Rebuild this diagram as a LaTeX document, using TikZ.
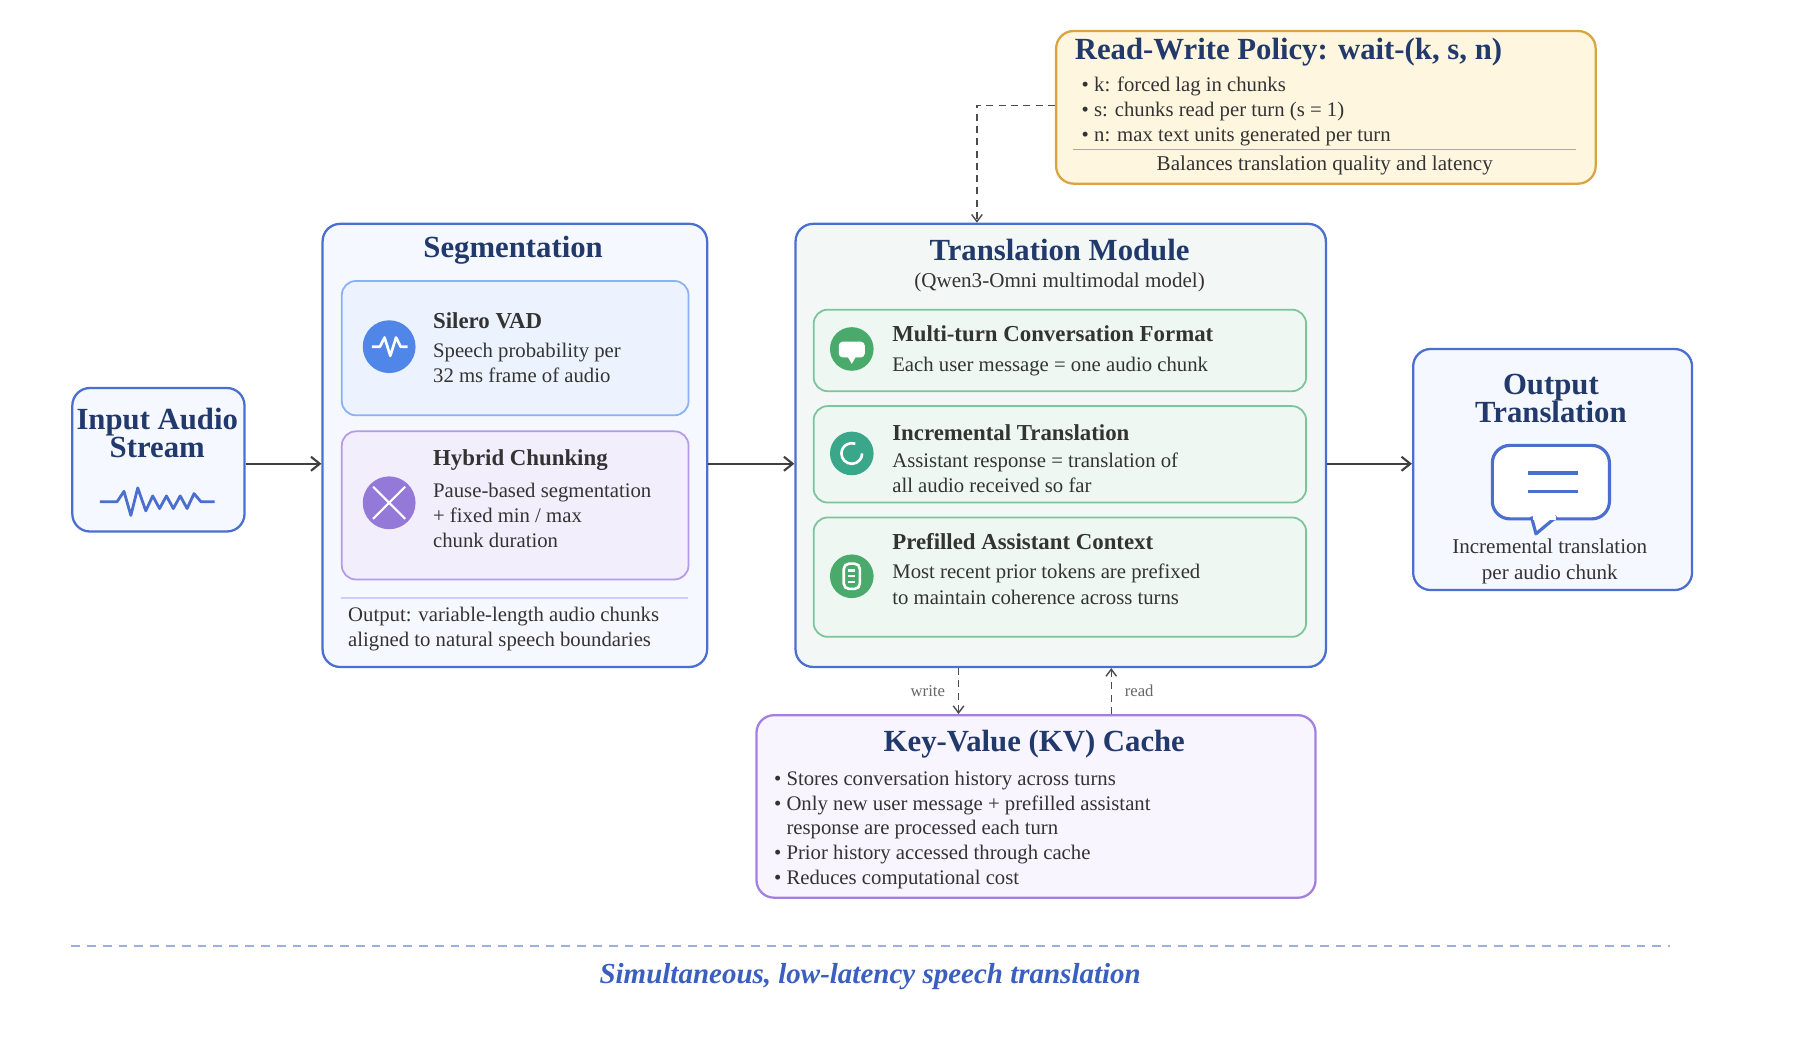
\documentclass[tikz,border=0pt]{standalone}
\usepackage{fontspec}
\setmainfont{Liberation Serif}
\usetikzlibrary{arrows.meta}
\definecolor{navy}{HTML}{22396B}
\definecolor{bblue}{HTML}{4A6FCF}
\definecolor{txt}{HTML}{333333}
\definecolor{capblue}{HTML}{3A5FC0}
\definecolor{gold}{RGB}{217,164,65}
\definecolor{goldf}{RGB}{255,246,224}
\definecolor{kvb}{RGB}{162,127,224}
\definecolor{kvf}{RGB}{249,245,255}
\definecolor{outf}{HTML}{F5F8FF}
\definecolor{tmf}{HTML}{F3F8F6}
\definecolor{vadb}{HTML}{8AB0F5}
\definecolor{vadf}{HTML}{EDF3FE}
\definecolor{hybb}{HTML}{B59AE6}
\definecolor{hybf}{HTML}{F2EEFC}
\definecolor{grb}{HTML}{7CC49A}
\definecolor{grf}{HTML}{EEF7F1}
\definecolor{ic1}{HTML}{4F86E8}
\definecolor{ic2}{HTML}{9479D8}
\definecolor{ic3}{HTML}{4AAA6C}
\definecolor{ic4}{HTML}{3AA68A}
\newcommand{\uu}{0.02296cm}
\tikzset{
 x=0.02296cm,y=-0.02296cm,
 box/.style 2 args={minimum width=#1*\uu,minimum height=#2*\uu,anchor=north west,inner sep=0},
 outer/.style={draw=bblue,line width=1.3pt,rounded corners=10pt},
 inner/.style={line width=1pt,rounded corners=8pt},
 ttl/.style={font=\fontsize{17.5}{19}\selectfont\bfseries,text=navy,align=center},
 sub/.style={font=\fontsize{13}{15}\selectfont\bfseries,text=txt,anchor=west,inner sep=0},
 body/.style={font=\fontsize{11.8}{14.3}\selectfont,text=txt,anchor=west,inner sep=0,align=left},
 arr/.style={-{Straight Barb[length=5pt,width=8pt]},line width=1.2pt,draw=black!75},
 darr/.style={-{Straight Barb[length=4pt,width=6pt]},line width=0.8pt,draw=black!70,dash pattern=on 4pt off 3pt},
 lbl/.style={font=\fontsize{9.5}{10}\selectfont,text=black!60},
 icon/.style={circle,minimum size=#1*\uu,inner sep=0},
}
\begin{document}
\begin{tikzpicture}
\useasboundingbox (0,0) rectangle (1568,917.3);
% Input
\node[outer,fill=outf,box={150}{125}] (in) at (62,337) {};
\node[ttl] (intl) at (137,377) {Input Audio\\[-3pt]Stream};
\draw[bblue,line width=1.6pt,line join=round] (87,437)--(102,437)--(108,428)--(114,449)--(120,425)--(127,445)--(133,432)--(139,443)--(145,432)--(151,443)--(157,432)--(163,443)--(169,430)--(175,437)--(187,437);
% Segmentation
\node[outer,fill=outf,box={335}{386}] (seg) at (280,194) {};
\node[ttl] at (447,218) {Segmentation};
\node[inner,draw=vadb,fill=vadf,box={302}{117}] (vad) at (297,244) {};
\node[icon=46,fill=ic1] (vadi) at (339,302) {};
\draw[white,line width=1.5pt,line join=round] (324,302)--(331,302)--(335,294)--(340,310)--(345,294)--(349,302)--(355,302);
\node[sub] at (377,279) {Silero VAD};
\node[body] at (377,316) {Speech probability per\\32 ms frame of audio};
\node[inner,draw=hybb,fill=hybf,box={302}{129}] (hyb) at (297,375) {};
\node[icon=46,fill=ic2] (hybi) at (339,438) {};
\draw[white,line width=1.2pt] (325,424)--(353,452) (353,424)--(325,452);
\node[sub] at (377,401) {Hybrid Chunking};
\node[body] at (377,449) {Pause-based segmentation\\+ fixed min / max\\chunk duration};
\draw[blue!20,line width=0.8pt] (297,521)--(599,521);
\node[body] at (303,548) {Output: variable-length audio chunks\\aligned to natural speech boundaries};
% Translation
\node[outer,fill=tmf,box={462}{386}] (tm) at (692,194) {};
\node[ttl] at (923,218) {Translation Module};
\node[font=\fontsize{12}{13}\selectfont,text=txt] at (923,246) {(Qwen3-Omni multimodal model)};
\node[inner,draw=grb,fill=grf,box={429}{71}] (m1) at (708,269) {};
\node[inner,draw=grb,fill=grf,box={429}{84}] (m2) at (708,353) {};
\node[inner,draw=grb,fill=grf,box={429}{104}] (m3) at (708,450) {};
\node[icon=38,fill=ic3] (i1) at (742,304) {};
\draw[white,fill=white,rounded corners=2pt] (731,298) rectangle (753,311);
\fill[white] (738,310)--(742,317)--(746,310)--cycle;
\node[icon=38,fill=ic4] (i2) at (742,395) {};
\draw[white,line width=1.5pt] (751,395) arc[start angle=0,end angle=290,radius=9];
\node[icon=38,fill=ic3] (i3) at (742,502) {};
\draw[white,line width=1.5pt,rounded corners=3pt] (735,491) rectangle (749,513);
\draw[white,line width=1.3pt] (739,497)--(745,497) (739,502)--(745,502) (739,507)--(745,507);
\node[sub] at (777,291) {Multi-turn Conversation Format};
\node[body] at (777,319) {Each user message = one audio chunk};
\node[sub] at (777,377) {Incremental Translation};
\node[body] at (777,412) {Assistant response = translation of\\all audio received so far};
\node[sub] at (777,472) {Prefilled Assistant Context};
\node[body] at (777,509) {Most recent prior tokens are prefixed\\to maintain coherence across turns};
% Output
\node[outer,fill=outf,box={243}{210}] (out) at (1230,303) {};
\node[ttl] at (1351,347) {Output\\[-3pt]Translation};
\draw[bblue,line width=1.8pt,fill=white,rounded corners=10pt] (1300,388) rectangle (1402,452);
\draw[bblue,line width=1.8pt,fill=white,line join=round] (1334,450)--(1338,465)--(1356,450);
\draw[white,line width=2.5pt] (1335,451)--(1355,451);
\draw[bblue,line width=1.8pt] (1331,412)--(1375,412) (1331,428)--(1375,428);
\node[font=\fontsize{12}{14.8}\selectfont,text=txt,align=center] at (1350,489) {Incremental translation\\per audio chunk};
% Policy
\node[outer,draw=gold,fill=goldf,box={470}{133}] (pol) at (919,26) {};
\node[ttl,anchor=west,inner sep=0] at (936,45) {Read-Write Policy: wait-(k, s, n)};
\node[body,font=\fontsize{11.8}{14.3}\selectfont] at (942,97) {• k: forced lag in chunks\\• s: chunks read per turn (s = 1)\\• n: max text units generated per turn};
\draw[gold,line width=0.8pt] (935,130)--(1373,130);
\node[font=\fontsize{12}{13}\selectfont,text=txt] at (1154,144) {Balances translation quality and latency};
% KV
\node[outer,draw=kvb,fill=kvf,box={487}{159}] (kv) at (658,622) {};
\node[ttl] at (901,648) {Key-Value (KV) Cache};
\node[body,font=\fontsize{11.8}{14}\selectfont] at (674,723) {• Stores conversation history across turns\\• Only new user message + prefilled assistant\\\hphantom{• }response are processed each turn\\• Prior history accessed through cache\\• Reduces computational cost};
% arrows
\coordinate (ay) at (0,404);
\draw[arr] (in.east|-ay) -- (seg.west|-ay);
\draw[arr] (seg.east|-ay) -- (tm.west|-ay);
\draw[arr] (tm.east|-ay) -- (out.west|-ay);
\coordinate (pc) at (851,92);
\draw[darr] (pol.west|-pc) -- (pc) -- (tm.north-|pc);
\coordinate (wx) at (835,0); \coordinate (rx) at (968,0);
\draw[darr] (tm.south-|wx) -- (kv.north-|wx) node[lbl,midway,left=4pt] {write};
\draw[darr] (kv.north-|rx) -- (tm.south-|rx) node[lbl,midway,right=4pt] {read};
% bottom
\draw[capblue!50,line width=0.8pt,dash pattern=on 5pt off 4pt] (62,824)--(1455,824);
\node[font=\fontsize{16.5}{18}\selectfont\itshape\bfseries,text=capblue] at (758,851) {Simultaneous, low-latency speech translation};
\end{tikzpicture}
\end{document}
